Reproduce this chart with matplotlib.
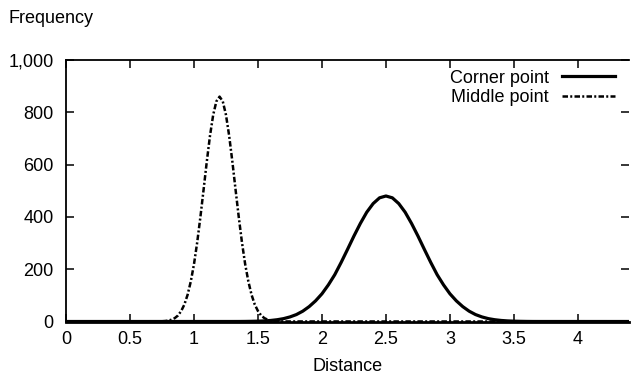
import matplotlib
matplotlib.use("Agg")
import matplotlib.pyplot as plt

plt.rcParams['font.family'] = ['Liberation Sans', 'DejaVu Sans']

# Corner point (solid)
corner_x = [0.0, 1.3, 1.35, 1.4, 1.45, 1.5, 1.55, 1.6, 1.65, 1.7, 1.75, 1.8, 1.85,
            1.9, 1.95, 2.0, 2.05, 2.1, 2.15, 2.2, 2.25, 2.3, 2.35, 2.4, 2.45, 2.5,
            2.55, 2.6, 2.65, 2.7, 2.75, 2.8, 2.85, 2.9, 2.95, 3.0, 3.05, 3.1, 3.15,
            3.2, 3.25, 3.3, 3.35, 3.4, 3.45, 3.5, 3.55, 3.6, 3.65, 3.7, 4.4]
corner_y = [0, 0.05, 0.1, 0.3, 0.7, 1.3, 2.3, 4, 6.8, 11, 17.5, 26.5, 39.5,
            57, 79, 106, 140, 179, 226, 276, 327, 375, 418, 451, 473, 480,
            473, 451, 418, 375, 327, 276, 226, 179, 140, 106, 79, 57, 39.5,
            26.5, 17.5, 11, 6.8, 4, 2.3, 1.3, 0.7, 0.3, 0.1, 0.05, 0]

# Middle point (dash-dot)
middle_x = [0.0, 0.7, 0.725, 0.75, 0.775, 0.8, 0.825, 0.85, 0.875, 0.9, 0.925, 0.95,
            0.975, 1.0, 1.025, 1.05, 1.075, 1.1, 1.125, 1.15, 1.175, 1.2, 1.225,
            1.25, 1.275, 1.3, 1.325, 1.35, 1.375, 1.4, 1.425, 1.45, 1.475, 1.5,
            1.525, 1.55, 1.575, 1.6, 1.625, 1.65, 1.7, 4.4]
middle_y = [0, 0.2, 0.4, 0.9, 1.8, 3.6, 7, 13, 23, 40, 65, 102,
            153, 219, 302, 399, 504, 611, 710, 790, 842, 860, 842,
            790, 710, 611, 504, 399, 302, 219, 153, 102, 65, 40,
            23, 13, 7, 3.6, 1.8, 0.9, 0.2, 0]

x_ticks = [0, 0.5, 1, 1.5, 2, 2.5, 3, 3.5, 4]
x_tick_labels = ["0", "0.5", "1", "1.5", "2", "2.5", "3", "3.5", "4"]
y_ticks = [0, 200, 400, 600, 800, 1000]
y_tick_labels = ["0", "200", "400", "600", "800", "1,000"]

FS = 13

fig = plt.figure(figsize=(6.31, 3.77), dpi=100)
ax = fig.add_axes([0.1046, 0.1472, 0.8924, 0.6936])

ax.plot(middle_x, middle_y, color='black', lw=1.8, dashes=[2.2, 0.9, 0.8, 0.9],
        label='Middle point', zorder=3)
ax.plot(corner_x, corner_y, color='black', lw=2.3, label='Corner point', zorder=4)

ax.set_xlim(0, 4.4)
ax.set_ylim(0, 1000)
ax.set_xticks(x_ticks)
ax.set_xticklabels(x_tick_labels)
ax.set_yticks(y_ticks)
ax.set_yticklabels(y_tick_labels)

ax.tick_params(direction='in', length=6, width=1.1, labelsize=FS, top=True, right=True,
               colors='black')
ax.tick_params(axis='y', pad=9)
ax.tick_params(axis='x', pad=7)
for s in ['left', 'bottom', 'top']:
    ax.spines[s].set_linewidth(1.3)
ax.spines['bottom'].set_linewidth(2.0)
ax.spines['right'].set_visible(False)

ax.set_xlabel('Distance', fontsize=FS, labelpad=7)
fig.text(0.013, 0.952, 'Frequency', fontsize=FS, ha='left', va='center')

handles, labels = ax.get_legend_handles_labels()
leg = ax.legend(handles[::-1], labels[::-1], loc='upper right', frameon=False,
                markerfirst=False, fontsize=FS, handlelength=2.95, handletextpad=0.72,
                labelspacing=0.15, borderaxespad=0, borderpad=0,
                bbox_to_anchor=(0.975, 0.963))
for t in leg.get_texts():
    t.set_ha('right')

fig.savefig('out.png', dpi=100)
